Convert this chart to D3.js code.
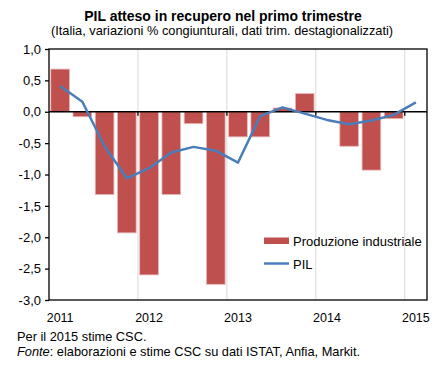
<!DOCTYPE html>
<html lang="it">
<head>
<meta charset="utf-8">
<title>PIL atteso in recupero</title>
<script src="https://cdn.jsdelivr.net/npm/d3@7"></script>
<style>
  body { margin: 0; background: #fff; }
  svg text { font-family: "Liberation Sans", Arial, sans-serif; fill: #000; }
</style>
</head>
<body>
<div id="chart"></div>
<script>
// quarters 2011Q1 .. 2015Q1
var quarters = ["2011Q1","2011Q2","2011Q3","2011Q4","2012Q1","2012Q2","2012Q3","2012Q4",
                "2013Q1","2013Q2","2013Q3","2013Q4","2014Q1","2014Q2","2014Q3","2014Q4","2015Q1"];
// Produzione industriale (no value for 2015Q1)
var produzione = [0.68, -0.08, -1.32, -1.93, -2.60, -1.32, -0.19, -2.75,
                  -0.40, -0.40, 0.06, 0.29, 0.00, -0.55, -0.93, -0.11, null];
// PIL
var pil = [0.41, 0.16, -0.55, -1.06, -0.90, -0.65, -0.56, -0.62,
           -0.81, -0.07, 0.07, -0.03, -0.13, -0.20, -0.14, -0.05, 0.15];
var yTicks = [1, 0.5, 0, -0.5, -1, -1.5, -2, -2.5, -3];
var years = ["2011", "2012", "2013", "2014", "2015"];

var W = 446, H = 371;
var margin = {top: 49, right: 19, bottom: 71, left: 49};
var width = W - margin.left - margin.right,
    height = H - margin.top - margin.bottom;

var svg = d3.select("#chart").append("svg")
    .attr("width", W).attr("height", H);

// titles
svg.append("text").attr("x", 223).attr("y", 21)
  .attr("text-anchor", "middle").style("font-size", "14px").style("font-weight", "bold")
  .text("PIL atteso in recupero nel primo trimestre");
svg.append("text").attr("x", 222).attr("y", 35)
  .attr("text-anchor", "middle").style("font-size", "12.8px")
  .text("(Italia, variazioni % congiunturali, dati trim. destagionalizzati)");

var g = svg.append("g").attr("transform", "translate(" + margin.left + "," + margin.top + ")");

var x = d3.scaleBand().domain(quarters).range([0, width]).paddingInner(0.16).paddingOuter(0.08);
var step = x.step();
var y = d3.scaleLinear().domain([-3, 1]).range([height, 0]);

// vertical gridlines at year starts
years.slice(1).forEach(function(yr) {
  var gx = x(yr + "Q1") - (step - x.bandwidth()) / 2;
  g.append("line").attr("x1", gx).attr("x2", gx).attr("y1", 0).attr("y2", height)
    .attr("stroke", "#d9d9d9").attr("stroke-width", 1);
});

// bars
g.selectAll("rect.bar")
  .data(quarters.map(function(q, i) { return {q: q, v: produzione[i]}; })
    .filter(function(d) { return d.v !== null && d.v !== 0; }))
  .enter().append("rect")
    .attr("class", "bar")
    .attr("x", function(d) { return x(d.q); })
    .attr("width", x.bandwidth())
    .attr("y", function(d) { return y(Math.max(0, d.v)); })
    .attr("height", function(d) { return Math.abs(y(d.v) - y(0)); })
    .attr("fill", "#c0504d")
    .attr("stroke", "#e6b9b8").attr("stroke-width", 0.8);

// zero line with year ticks
g.append("line").attr("x1", 0).attr("x2", width).attr("y1", y(0)).attr("y2", y(0))
  .attr("stroke", "#000").attr("stroke-width", 1.3);
years.slice(1).forEach(function(yr) {
  var gx = x(yr + "Q1") - (step - x.bandwidth()) / 2;
  g.append("line").attr("x1", gx).attr("x2", gx).attr("y1", y(0)).attr("y2", y(0) + 4)
    .attr("stroke", "#000").attr("stroke-width", 1.3);
});

// PIL line
var line = d3.line()
  .x(function(d, i) { return x(quarters[i]) + x.bandwidth() / 2; })
  .y(function(d) { return y(d); });
g.append("path").datum(pil).attr("d", line)
  .attr("fill", "none").attr("stroke", "#4a7ebb").attr("stroke-width", 2.5)
  .attr("stroke-linejoin", "round");

// frame
g.append("rect").attr("x", 0).attr("y", 0).attr("width", width).attr("height", height)
  .attr("fill", "none").attr("stroke", "#000").attr("stroke-width", 1.3);

// y axis
var yAxis = g.append("g")
  .call(d3.axisLeft(y).tickValues(yTicks).tickSize(4).tickPadding(4)
    .tickFormat(function(d) { return d3.format(".1f")(d).replace(".", ",").replace("−", "-"); }));
yAxis.select(".domain").remove();
yAxis.selectAll("line").attr("stroke", "#000").attr("stroke-width", 1.3);
yAxis.selectAll("text").style("font-size", "13px")
  .style("font-family", "'Liberation Sans', Arial, sans-serif");

// year labels
years.forEach(function(yr) {
  g.append("text").attr("x", x(yr + "Q1") + x.bandwidth() / 2).attr("y", height + 22)
    .attr("text-anchor", "middle").style("font-size", "12.5px").text(yr);
});

// legend
var lg = svg.append("g").attr("transform", "translate(264,0)");
lg.append("rect").attr("x", 0).attr("y", 237.5).attr("width", 25).attr("height", 6.5)
  .attr("fill", "#c0504d");
lg.append("text").attr("x", 29).attr("y", 245.5).style("font-size", "13px").text("Produzione industriale");
lg.append("line").attr("x1", 0).attr("x2", 25).attr("y1", 263.5).attr("y2", 263.5)
  .attr("stroke", "#4a7ebb").attr("stroke-width", 2.5);
lg.append("text").attr("x", 29).attr("y", 268.5).style("font-size", "13px").text("PIL");

// footnotes
svg.append("text").attr("x", 17).attr("y", 341).style("font-size", "12.8px").text("Per il 2015 stime CSC.");
var f = svg.append("text").attr("x", 17).attr("y", 356).style("font-size", "12.8px");
f.append("tspan").style("font-style", "italic").text("Fonte");
f.append("tspan").text(": elaborazioni e stime CSC su dati ISTAT, Anfia, Markit.");
</script>
</body>
</html>
